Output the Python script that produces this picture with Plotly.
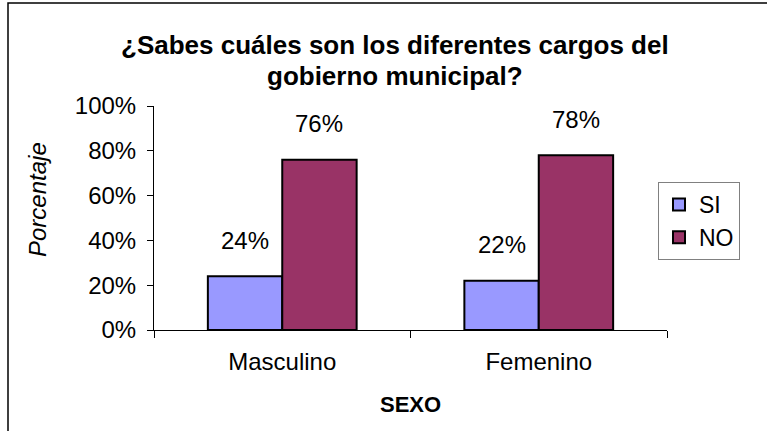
import plotly.graph_objects as go

# Data
categories = ["Masculino", "Femenino"]
si_values = [0.24, 0.22]
no_values = [0.76, 0.78]
series_names = ["SI", "NO"]
y_ticks = [0, 0.2, 0.4, 0.6, 0.8, 1.0]
title_lines = ["¿Sabes cuáles son los diferentes cargos del", "gobierno municipal?"]

FONT = "Arial, Liberation Sans, sans-serif"
colors = {"SI": "#9999FF", "NO": "#993366"}

# plot area in pixels
W, H = 767, 431
L, R, T, B = 154, 667, 106, 330
pw, ph = R - L, B - T

fig = go.Figure()
for name, vals in zip(series_names, [si_values, no_values]):
    fig.add_trace(go.Bar(
        x=categories, y=vals, name=name,
        marker=dict(color=colors[name], line=dict(color="black", width=2)),
        hoverinfo="skip",
    ))

# data labels, placed well above the bars like Excel
half = 0.58 / 4
for j, vals in enumerate([si_values, no_values]):
    off = -half if j == 0 else half
    for i, v in enumerate(vals):
        fig.add_annotation(x=i + off, y=v, text=f"{v:.0%}", showarrow=False,
                           yshift=36, font=dict(size=24, color="black", family=FONT))

# title, two lines
for k, line in enumerate(title_lines):
    fig.add_annotation(xref="paper", yref="paper", x=(395 - L) / pw, y=(B - (45 + 31 * k)) / ph,
                       xanchor="center", yanchor="middle", text=f"<b>{line}</b>",
                       showarrow=False, font=dict(size=26, color="black", family=FONT))

# axis titles
fig.add_annotation(xref="paper", yref="paper", x=(37 - L) / pw, y=(B - 200) / ph,
                   xanchor="center", yanchor="middle",
                   text="<i>Porcentaje</i>", textangle=-90, showarrow=False,
                   font=dict(size=24, color="black", family=FONT))
fig.add_annotation(xref="paper", yref="paper", x=(410 - L) / pw, y=(B - 404) / ph,
                   xanchor="center", yanchor="middle",
                   text="<b>SEXO</b>", showarrow=False,
                   font=dict(size=22, color="black", family=FONT))

# outer chart frame (clipped on right and bottom)
fig.add_shape(type="rect", xref="paper", yref="paper",
              x0=(8 - L) / pw, x1=(W + 5 - L) / pw,
              y0=(B - H - 5) / ph, y1=(B - 3) / ph,
              line=dict(color="black", width=1.5), layer="below")

fig.update_layout(
    width=W, height=H,
    margin=dict(l=L, r=W - R, t=T, b=H - B),
    paper_bgcolor="white", plot_bgcolor="white",
    barmode="group", bargap=0.42, bargroupgap=0,
    font=dict(family=FONT, color="black"),
    showlegend=True,
    legend=dict(x=(658 - L) / pw, xanchor="left", y=(B - 182) / ph, yanchor="top",
                bordercolor="#808080", borderwidth=1, bgcolor="white",
                font=dict(size=23, color="black", family=FONT),
                tracegroupgap=0, itemwidth=30),
    xaxis=dict(showline=True, linecolor="black", linewidth=1,
               ticks="outside", tickson="boundaries", ticklen=7, tickcolor="black",
               tickfont=dict(size=24, color="black", family=FONT),
               ticklabelstandoff=10,
               showgrid=False, fixedrange=True),
    yaxis=dict(range=[0, 1], tickvals=y_ticks, tickformat=".0%",
               showline=True, linecolor="black", linewidth=1,
               ticks="outside", ticklen=6, tickcolor="black",
               tickfont=dict(size=24, color="black", family=FONT),
               ticklabelstandoff=6,
               showgrid=False, zeroline=False, fixedrange=True),
)

fig.write_html("out.html", config={"displayModeBar": False},
               post_script="document.body.style.margin='0';")
